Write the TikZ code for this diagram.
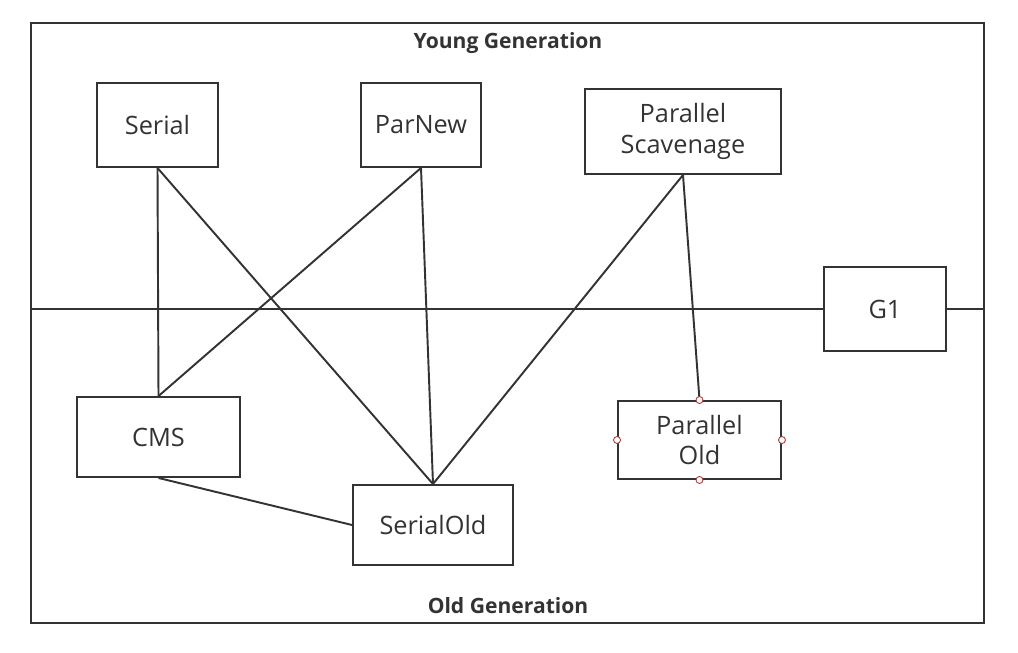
\documentclass[tikz,border=0pt]{standalone}
\usepackage{fontspec}
\setmainfont{Open Sans}
\definecolor{ink}{HTML}{333333}
\definecolor{handlered}{HTML}{A83A3A}

\tikzstyle{gc} = [draw=ink,line width=1.1pt,text=ink,align=center,font=\fontsize{14.4}{17.6}\selectfont,inner sep=2pt]
\tikzstyle{gen} = [text=ink,font=\bfseries\fontsize{12}{14}\selectfont]
\tikzstyle{handle} = [circle,draw=handlered,fill=white,line width=0.5pt,inner sep=0pt,minimum size=0.14cm]

\begin{document}
\begin{tikzpicture}
	\useasboundingbox (0,0) rectangle (20.36,13.04);
	\node[draw=ink,line width=1.1pt,minimum width=19.06cm,minimum height=12cm] (frame) at (10.15,6.58) {};
	\node[gen] (young) at (10.16,12.18) {Young Generation};
	\node[gen] (old) at (10.16,0.92) {Old Generation};
	
	\node[gc,minimum width=2.42cm,minimum height=1.68cm] (serial) at (3.15,10.54) {Serial};
	\node[gc,minimum width=2.40cm,minimum height=1.68cm] (parnew) at (8.42,10.54) {ParNew};
	\node[gc,minimum width=3.92cm,minimum height=1.70cm] (scavenge) at (13.66,10.41) {Parallel\\Scavenage};
	\node[gc,minimum width=3.26cm,minimum height=1.60cm] (cms) at (3.17,4.30) {CMS};
	\node[gc,minimum width=3.20cm,minimum height=1.60cm] (serialold) at (8.66,2.54) {SerialOld};
	\node[gc,minimum width=3.26cm,minimum height=1.56cm] (parold) at (13.99,4.24) {Parallel\\Old};
	\node[gc,minimum width=2.44cm,minimum height=1.68cm] (g1) at (17.70,6.86) {G1};
	
	\draw[ink,line width=1.1pt] (frame.west |- g1.west) -- (g1.west);
	\draw[ink,line width=1.1pt] (g1.east) -- (frame.east |- g1.east);
	
	\draw[ink,line width=1.1pt] (serial.south) -- (cms.north);
	\draw[ink,line width=1.1pt] (serial.south) -- (serialold.north);
	\draw[ink,line width=1.1pt] (parnew.south) -- (cms.north);
	\draw[ink,line width=1.1pt] (parnew.south) -- (serialold.north);
	\draw[ink,line width=1.1pt] (scavenge.south) -- (serialold.north);
	\draw[ink,line width=1.1pt] (scavenge.south) -- (parold.north);
	\draw[ink,line width=1.1pt] (cms.south) -- (serialold.west);
	
	\node[handle] (hn) at (parold.north) {};
	\node[handle] (hs) at (parold.south) {};
	\node[handle] (he) at (parold.east) {};
	\node[handle] (hw) at (parold.west) {};
\end{tikzpicture}
\end{document}
